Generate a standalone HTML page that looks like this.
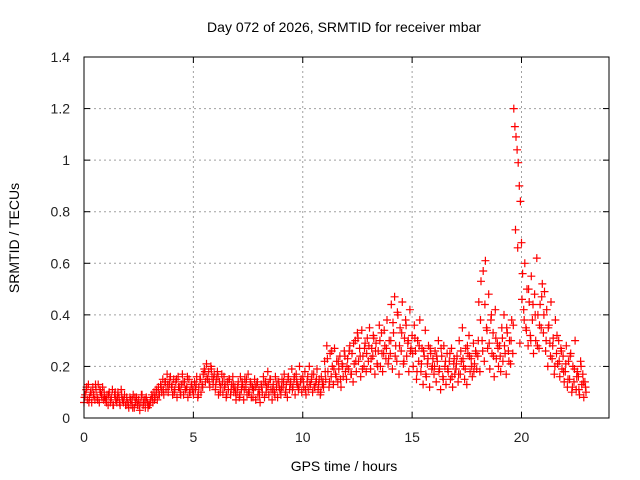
<!DOCTYPE html>
<html><head><meta charset="utf-8"><style>body{margin:0;background:#fff}svg{display:block;font-family:"Liberation Sans",sans-serif}</style></head>
<body>
<svg id="chart" width="640" height="480">
<text x="344" y="32" font-size="14" text-anchor="middle" fill="#000">Day 072 of 2026, SRMTID for receiver mbar</text>
<text x="344" y="471" font-size="14" text-anchor="middle">GPS time / hours</text>
<text transform="translate(19,238) rotate(-90)" font-size="14" text-anchor="middle">SRMTID / TECUs</text>
<g id="grid"></g>
<g id="ticks"></g>
<g id="pts"></g>
<rect x="84" y="57" width="525" height="361" fill="none" stroke="#000" stroke-width="1"/>
</svg>
<script>
const xTicks=[0,5,10,15,20];
const yTicks=[0,0.2,0.4,0.6,0.8,1,1.2,1.4];
const yTickLabels=["0","0.2","0.4","0.6","0.8","1","1.2","1.4"];
const xStart=0, xStep=0.05;
const yHundredths=[
6,9,11,7,13,8,10,6,12,9,7,11,8,13,6,10,9,12,7,8,
7,9,5,10,6,8,11,5,9,7,6,10,8,5,11,7,6,9,5,8,
6,4,8,5,7,9,4,6,8,5,7,3,6,9,5,7,4,8,6,5,
5,7,9,6,10,8,11,7,12,9,13,10,15,9,14,11,17,10,13,16,
12,9,15,11,14,8,16,12,10,13,17,9,14,11,12,8,15,10,13,11,
9,14,11,16,8,12,15,10,13,17,19,14,21,15,18,12,20,16,13,17,
11,15,18,9,14,12,17,10,16,13,8,14,11,15,9,13,16,10,12,7,
10,14,8,16,11,13,7,15,12,9,17,10,14,8,12,11,15,7,13,9,
11,6,13,10,16,8,14,12,18,9,15,11,7,13,10,16,12,8,14,11,
9,15,12,17,10,13,8,16,11,14,19,12,15,9,17,13,11,20,14,10,
16,12,18,9,14,11,20,13,15,10,17,12,14,19,11,15,9,16,13,12,
22,15,28,18,12,25,16,20,13,27,17,22,14,19,24,12,21,16,26,18,
15,23,19,28,17,25,14,21,30,18,33,22,27,16,34,24,20,29,18,31,
22,35,19,27,24,31,17,29,21,26,36,20,33,18,25,28,23,38,21,30,
25,44,19,33,47,28,22,40,17,35,26,45,21,31,38,24,29,18,42,27,
32,20,36,26,15,30,22,38,18,27,13,24,34,16,21,28,12,25,19,23,
17,26,14,22,30,19,11,24,16,28,20,13,25,18,22,15,27,12,21,17,
19,24,14,30,17,22,35,20,15,27,13,25,32,18,23,16,29,21,26,19,
24,45,18,53,30,57,22,61,35,27,48,19,38,25,33,16,42,23,29,20,
28,18,35,22,40,25,17,33,26,30,21,38,25,120,113,109,104,99,90,84,
68,56,42,60,35,50,28,45,32,55,38,25,48,30,62,40,27,44,35,52,
33,49,26,42,20,36,29,45,23,31,17,38,25,21,30,16,27,19,24,14,
18,28,12,22,15,25,10,20,14,30,11,18,16,9,22,13,17,8,14,10];
const xStartB=0.025, xStepB=0.1;
const yBHundredths=[
8,12,6,10,9,13,7,11,8,10,
6,9,7,5,10,8,6,9,7,5,
5,7,4,8,6,5,9,6,7,4,
6,8,7,10,9,12,11,14,13,15,
13,10,15,12,9,14,11,16,10,13,
11,13,9,15,12,18,16,14,19,15,
13,16,10,14,12,9,15,11,13,10,
12,9,14,11,15,10,13,8,12,14,
9,12,14,10,13,15,11,9,14,12,
12,14,10,15,13,11,16,14,12,15,
14,11,16,13,17,12,15,13,10,14,
18,23,14,26,19,16,22,15,20,24,
20,26,17,29,22,31,24,19,27,25,
28,23,32,26,20,30,25,34,27,23,
30,37,24,41,28,33,22,36,30,26,
25,31,18,28,21,26,17,23,27,20,
20,24,18,27,15,22,19,25,16,23,
21,17,26,23,19,28,24,20,18,25,
30,38,26,44,34,29,40,24,31,27,
24,31,28,35,22,30,36,73,66,29,
46,38,34,50,30,44,40,28,36,47,
40,30,35,24,28,20,32,22,26,18,
21,15,24,12,19,16,11,20,14,12];
const X0=84,X1=609,Y0=418,Y1=57,XMAX=24,YMAX=1.4;
const sx=v=>X0+v/XMAX*(X1-X0), sy=v=>Y0-v/YMAX*(Y0-Y1);
const NS="http://www.w3.org/2000/svg";
const grid=document.getElementById('grid'),ticks=document.getElementById('ticks'),pts=document.getElementById('pts');
function mk(tag,attrs,parent){const e=document.createElementNS(NS,tag);for(const k in attrs)e.setAttribute(k,attrs[k]);parent.appendChild(e);return e;}
xTicks.forEach(t=>{const x=sx(t);
 if(t>0){const g=mk('line',{x1:x,x2:x,y1:Y0,y2:Y1,stroke:'#a0a0a0','stroke-dasharray':'2,3'},grid);}
 const a=mk('line',{x1:x,x2:x,y1:Y0,y2:Y0-6,stroke:'#000'},ticks);
 const b=mk('line',{x1:x,x2:x,y1:Y1,y2:Y1+6,stroke:'#000'},ticks);
 const l=mk('text',{x:x,y:Y0+24,'font-size':14,'text-anchor':'middle',fill:'#222'},ticks);l.textContent=String(t);
 });
yTicks.forEach((t,i)=>{const y=sy(t);
 if(t>0&&t<YMAX){const g=mk('line',{x1:X0,x2:X1,y1:y,y2:y,stroke:'#a0a0a0','stroke-dasharray':'2,3'},grid);}
 const a=mk('line',{x1:X0,x2:X0+6,y1:y,y2:y,stroke:'#000'},ticks);
 const b=mk('line',{x1:X1,x2:X1-6,y1:y,y2:y,stroke:'#000'},ticks);
 const l=mk('text',{x:X0-14,y:y+5,'font-size':14,'text-anchor':'end',fill:'#222'},ticks);l.textContent=yTickLabels[i];
 });
let d='';
function cross(xv,yv){const x=sx(xv),y=sy(yv);
 d+=`M${(x-4).toFixed(1)} ${y.toFixed(1)}h8M${x.toFixed(1)} ${(y-4).toFixed(1)}v8`;}
yHundredths.forEach((v,i)=>cross(xStart+i*xStep,v/100));
yBHundredths.forEach((v,i)=>cross(xStartB+i*xStepB,v/100));
const p=mk('path',{d:d,stroke:'#ff0000','stroke-width':1.2,fill:'none'},pts);


</script>
</body></html>
